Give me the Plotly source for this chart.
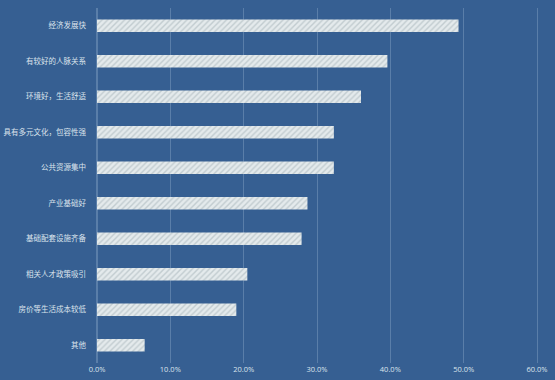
import plotly.graph_objects as go

categories = ["经济发展快", "有较好的人脉关系", "环境好，生活舒适", "具有多元文化，包容性强",
              "公共资源集中", "产业基础好", "基础配套设施齐备", "相关人才政策吸引",
              "房价等生活成本较低", "其他"]
values = [49.3, 39.6, 36.0, 32.3, 32.3, 28.7, 27.9, 20.5, 19.0, 6.5]
x_ticks = [0, 10, 20, 30, 40, 50, 60]

bg = "#365f92"
txt = "#dbe3ec"

fig = go.Figure(go.Bar(
    x=values, y=categories, orientation="h",
    marker=dict(
        color="#e4eaec",
        line=dict(width=0),
        pattern=dict(shape="/", bgcolor="#e4eaec", fgcolor="#9fadb3", size=4, solidity=0.35),
    ),
    hoverinfo="skip",
))

fig.update_layout(
    width=555, height=380,
    paper_bgcolor=bg, plot_bgcolor=bg,
    margin=dict(l=97, r=7, t=8, b=17, autoexpand=False),
    bargap=0.65,
    showlegend=False,
    font=dict(family="Noto Sans CJK SC", color=txt, size=8),
)
fig.update_xaxes(
    range=[0, 61.5], tickvals=x_ticks, ticktext=[f"{v:.1f}%" for v in x_ticks],
    showgrid=True, gridcolor="#5a7ea9", gridwidth=1, zeroline=True, zerolinecolor="#5a7ea9",
    showline=False, ticks="", automargin=False,
    tickfont=dict(family="Open Sans", size=7.5, color=txt),
)
fig.update_yaxes(
    autorange="reversed", showgrid=False, ticks="", ticklabelstandoff=10, automargin=False,
    tickfont=dict(family="Noto Sans CJK SC", size=7.5, color=txt),
)

fig.write_html(
    "out.html",
    config={"displayModeBar": False, "staticPlot": True},
    post_script="document.body.style.margin='0';document.body.style.overflow='hidden';"
                "document.body.style.background='#365f92';",
)
